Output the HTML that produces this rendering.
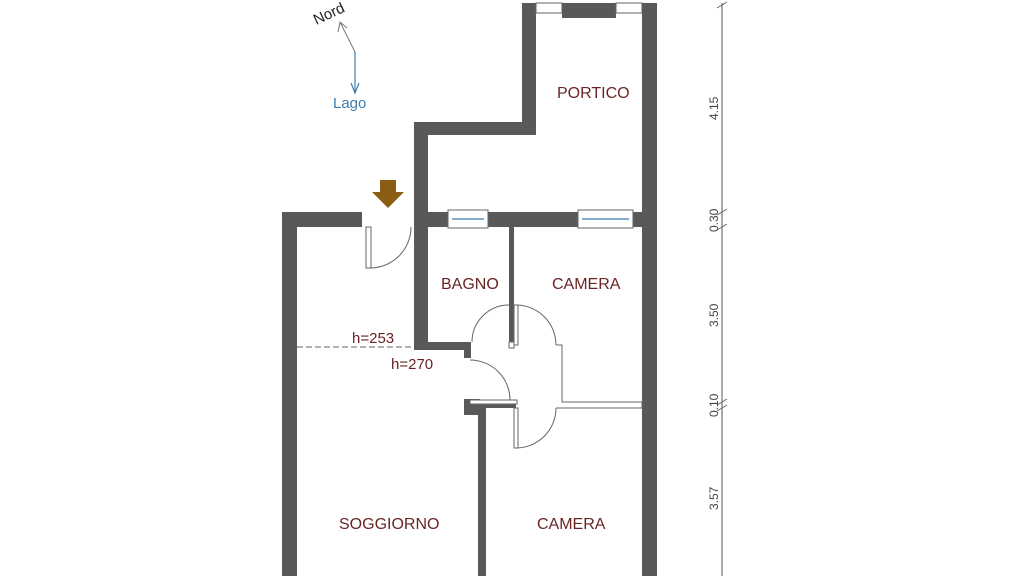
<!DOCTYPE html>
<html><head><style>
body{margin:0;width:1024px;height:576px;background:#fff;overflow:hidden;font-family:"Liberation Sans",sans-serif}
</style></head><body>
<svg width="1024" height="576" viewBox="0 0 1024 576" xmlns="http://www.w3.org/2000/svg">
<g fill="#595959">
<rect x="282" y="212" width="15" height="364"/>
<rect x="282" y="212" width="80" height="15"/>
<rect x="414" y="212" width="243" height="15"/>
<rect x="414" y="122" width="14" height="226"/>
<rect x="414" y="122" width="122" height="13"/>
<rect x="522" y="3" width="14" height="132"/>
<rect x="642" y="3" width="15" height="573"/>
<rect x="562" y="3" width="54" height="15"/>
<rect x="509" y="227" width="5" height="115"/>
<rect x="414" y="342" width="57" height="8"/>
<rect x="464" y="342" width="7" height="16"/>
<rect x="464" y="399" width="16" height="16"/>
<rect x="478" y="403" width="8" height="173"/>
<rect x="478" y="403" width="38" height="5"/>
</g>
<g fill="#fff" stroke="#666" stroke-width="1">
<rect x="448" y="210" width="40" height="18"/>
<rect x="578" y="210" width="55" height="18"/>
<rect x="536" y="3" width="26" height="10"/>
<rect x="616" y="3" width="26" height="10"/>
<rect x="509" y="342" width="5" height="6"/>
<rect x="366" y="227" width="5" height="41"/>
<rect x="470" y="400" width="47" height="4"/>
<rect x="514" y="305" width="4" height="40"/>
<rect x="514" y="408" width="4" height="40"/>
<polyline points="556,345 562,345 562,402 642,402 642,408 556,408" />
</g>
<g stroke="#5b8fbf" stroke-width="1.5"><line x1="452" y1="219" x2="484" y2="219"/><line x1="582" y1="219" x2="629" y2="219"/></g>
<g fill="none" stroke="#666" stroke-width="1">
<path d="M370,268 A41,41 0 0 0 411,227"/>
<path d="M470,360 A40,40 0 0 1 510,400"/>
<path d="M509,305 A37,37 0 0 0 472,342"/>
<path d="M516,305 A40,40 0 0 1 556,345"/>
<path d="M516,448 A40,40 0 0 0 556,408"/>
<line x1="297" y1="347" x2="414" y2="347" stroke-dasharray="6,3"/>
<line x1="722" y1="3" x2="722" y2="576" stroke="#555"/>
<line x1="717" y1="8" x2="727" y2="2"/><line x1="717" y1="215" x2="727" y2="209"/><line x1="717" y1="230" x2="727" y2="224"/><line x1="717" y1="405" x2="727" y2="399"/><line x1="717" y1="411" x2="727" y2="405"/>
</g>
<polygon points="380,180 396,180 396,192 404,192 388,208 372,192 380,192" fill="#8a5e12"/>
<g stroke="#777" fill="none"><polyline points="355,52 340,22"/><polyline points="338,32 340,22 347,28"/></g>
<g stroke="#3f7fb0" fill="none" stroke-width="1.2"><line x1="355" y1="52" x2="355" y2="93"/><polyline points="351,83 355,93 359,83"/></g>
<text x="312" y="18" transform="rotate(-25 330 12)" font-size="15" fill="#222">Nord</text>
<text x="333" y="108" font-size="15" fill="#3f7fb0">Lago</text>
<g fill="#6b2424" font-size="16">
<text x="557" y="98">PORTICO</text>
<text x="441" y="289">BAGNO</text>
<text x="552" y="289">CAMERA</text>
<text x="339" y="529">SOGGIORNO</text>
<text x="537" y="529">CAMERA</text>
<text x="352" y="343" font-size="15">h=253</text>
<text x="391" y="369" font-size="15">h=270</text>
</g>
<g fill="#444" font-size="12">
<text transform="translate(718,120) rotate(-90)">4.15</text>
<text transform="translate(718,232) rotate(-90)">0.30</text>
<text transform="translate(718,327) rotate(-90)">3.50</text>
<text transform="translate(718,417) rotate(-90)">0.10</text>
<text transform="translate(718,510) rotate(-90)">3.57</text>
</g>
</svg>
</body></html>
